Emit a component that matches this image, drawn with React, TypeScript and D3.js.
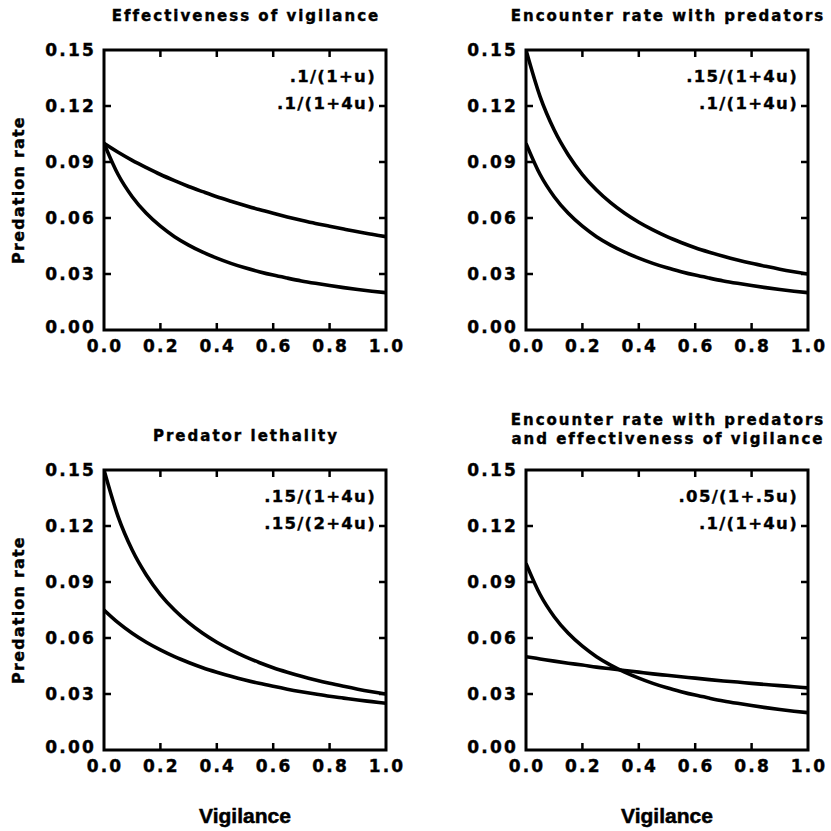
import React from "react";
import * as d3 from "d3";

const uValues = [0, 0.05, 0.1, 0.15, 0.2, 0.25, 0.3, 0.35, 0.4, 0.45, 0.5, 0.55, 0.6, 0.65, 0.7, 0.75, 0.8, 0.85, 0.9, 0.95, 1];

const p1_1u = [0.1, 0.0952, 0.0909, 0.087, 0.0833, 0.08, 0.0769, 0.0741, 0.0714, 0.069, 0.0667, 0.0645, 0.0625, 0.0606, 0.0588, 0.0571, 0.0556, 0.0541, 0.0526, 0.0513, 0.05];
const p1_14u = [0.1, 0.0833, 0.0714, 0.0625, 0.0556, 0.05, 0.0455, 0.0417, 0.0385, 0.0357, 0.0333, 0.03125, 0.0294, 0.0278, 0.0263, 0.025, 0.0238, 0.0227, 0.0217, 0.0208, 0.02];
const p15_14u = [0.15, 0.125, 0.1071, 0.09375, 0.0833, 0.075, 0.0682, 0.0625, 0.0577, 0.0536, 0.05, 0.0469, 0.0441, 0.0417, 0.0395, 0.0375, 0.0357, 0.0341, 0.0326, 0.03125, 0.03];
const p15_24u = [0.075, 0.0682, 0.0625, 0.0577, 0.0536, 0.05, 0.0469, 0.0441, 0.0417, 0.0395, 0.0375, 0.0357, 0.0341, 0.0326, 0.03125, 0.03, 0.0288, 0.0278, 0.0268, 0.0259, 0.025];
const p05_15u = [0.05, 0.0488, 0.0476, 0.0465, 0.0455, 0.0444, 0.0435, 0.0426, 0.0417, 0.0408, 0.04, 0.0392, 0.0385, 0.0377, 0.037, 0.0364, 0.0357, 0.0351, 0.0345, 0.0339, 0.0333];

const yTicks = [0, 0.03, 0.06, 0.09, 0.12, 0.15];
const xTicks = [0, 0.2, 0.4, 0.6, 0.8, 1.0];

const panelTitles = [
  ["Effectiveness of vigilance"],
  ["Encounter rate with predators"],
  ["Predator lethality"],
  ["Encounter rate with predators", "and effectiveness of vigilance"],
];
const panelLegends = [
  [".1\u2215(1+u)", ".1\u2215(1+4u)"],
  [".15\u2215(1+4u)", ".1\u2215(1+4u)"],
  [".15\u2215(1+4u)", ".15\u2215(2+4u)"],
  [".05\u2215(1+.5u)", ".1\u2215(1+4u)"],
];
const panelSeries = [
  [p1_1u, p1_14u],
  [p15_14u, p1_14u],
  [p15_14u, p15_24u],
  [p05_15u, p1_14u],
];

const W = 282;
const H = 280;
const origins = [
  [104, 50],
  [526, 50],
  [104, 470],
  [526, 470],
];

const bold = "'DejaVu Sans', sans-serif";
const helv = "'Liberation Sans', Arial, sans-serif";

function Panel({ idx }: { idx: number }) {
  const [x0, y0] = origins[idx];
  const x = d3.scaleLinear().domain([0, 1]).range([x0, x0 + W]);
  const y = d3.scaleLinear().domain([0, 0.15]).range([y0 + H, y0]);
  const line = d3
    .line<number>()
    .x((_, i) => x(uValues[i]))
    .y((d) => y(d))
    .curve(d3.curveMonotoneX);
  const titles = panelTitles[idx];
  const tl = 7;
  return (
    <g>
      {titles.map((t, i) => (
        <text
          key={i}
          x={x0 + W / 2 + 1}
          y={y0 - (titles.length === 1 ? 34 : i === 0 ? 50 : 31)}
          textAnchor="middle"
          dominantBaseline="central"
          fontFamily={bold}
          fontWeight="bold"
          fontSize={15}
          letterSpacing={2}
          stroke="#000"
          strokeWidth={0.4}
        >
          {t}
        </text>
      ))}
      <defs>
        <clipPath id={`clip${idx}`}>
          <rect x={x0} y={y0 - 2} width={W} height={H + 2} />
        </clipPath>
      </defs>
      {panelSeries[idx].map((s, i) => (
        <path
          key={i}
          d={line(s) || ""}
          fill="none"
          stroke="#000"
          strokeWidth={3.6}
          clipPath={`url(#clip${idx})`}
        />
      ))}
      {xTicks.slice(1, -1).map((t) => (
        <g key={t}>
          <line x1={x(t)} x2={x(t)} y1={y0 + H} y2={y0 + H - tl} stroke="#000" strokeWidth={2.5} />
          <line x1={x(t)} x2={x(t)} y1={y0} y2={y0 + tl} stroke="#000" strokeWidth={2.5} />
        </g>
      ))}
      {yTicks.slice(1, -1).map((t) => (
        <g key={t}>
          <line x1={x0} x2={x0 + tl} y1={y(t)} y2={y(t)} stroke="#000" strokeWidth={2.5} />
          <line x1={x0 + W} x2={x0 + W - tl} y1={y(t)} y2={y(t)} stroke="#000" strokeWidth={2.5} />
        </g>
      ))}
      <rect x={x0} y={y0} width={W} height={H} fill="none" stroke="#000" strokeWidth={3} />
      {yTicks.map((t) => (
        <text
          key={t}
          x={x0 - 8}
          y={y(t) - (t === 0 ? 3 : 0)}
          textAnchor="end"
          dominantBaseline="central"
          fontFamily={bold}
          fontWeight="bold"
          fontSize={17}
          letterSpacing={2.2}
          stroke="#000"
          strokeWidth={0.4}
        >
          {t.toFixed(2)}
        </text>
      ))}
      {xTicks.map((t) => (
        <text
          key={t}
          x={x(t) + 1}
          y={y0 + H + 16}
          textAnchor="middle"
          dominantBaseline="central"
          fontFamily={bold}
          fontWeight="bold"
          fontSize={17}
          letterSpacing={2.2}
          stroke="#000"
          strokeWidth={0.4}
        >
          {t.toFixed(1)}
        </text>
      ))}
      {panelLegends[idx].map((l, i) => (
        <text
          key={i}
          x={x0 + W - 10}
          y={y0 + 26 + i * 27}
          textAnchor="end"
          dominantBaseline="central"
          fontFamily={bold}
          fontWeight="bold"
          fontSize={16.5}
          letterSpacing={1.3}
          stroke="#000"
          strokeWidth={0.35}
        >
          {l}
        </text>
      ))}
      {idx % 2 === 0 && (
        <text
          transform={`translate(18,${y0 + H / 2}) rotate(-90)`}
          textAnchor="middle"
          dominantBaseline="central"
          fontFamily={bold}
          fontWeight="bold"
          fontSize={16}
          letterSpacing={1.2}
          stroke="#000"
          strokeWidth={0.4}
        >
          Predation rate
        </text>
      )}
      {idx >= 2 && (
        <text
          x={x0 + W / 2}
          y={815}
          textAnchor="middle"
          dominantBaseline="central"
          fontFamily={helv}
          fontWeight="bold"
          fontSize={21}
          stroke="#000"
          strokeWidth={0.5}
        >
          Vigilance
        </text>
      )}
    </g>
  );
}

export default function App() {
  return (
    <svg
      width={831}
      height={831}
      style={{ position: "absolute", left: 0, top: 0, background: "#fff" }}
    >
      <rect width={831} height={831} fill="#fff" />
      {[0, 1, 2, 3].map((i) => (
        <Panel key={i} idx={i} />
      ))}
    </svg>
  );
}
